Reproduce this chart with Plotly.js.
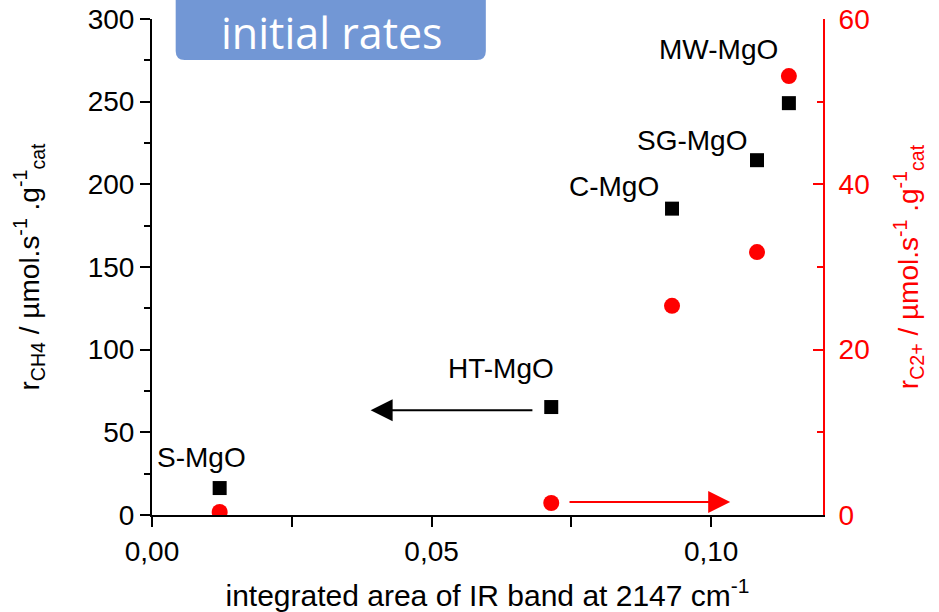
<!DOCTYPE html>
<html>
<head>
<meta charset="utf-8">
<script src="https://cdn.plot.ly/plotly-3.0.1.min.js"></script>
<style>
  html, body { margin: 0; padding: 0; background: #ffffff; }
  #chart { width: 939px; height: 612px; }
</style>
</head>
<body>
<div id="chart"></div>
<script>
// ---- data ----
const samples = ['S-MgO', 'HT-MgO', 'C-MgO', 'SG-MgO', 'MW-MgO'];
const irArea  = [0.0121, 0.0714, 0.0930, 0.1082, 0.1139];
const rCH4    = [16.3, 65.3, 185.3, 214.6, 249.1];
const rC2     = [0.36, 1.45, 25.3, 31.8, 53.1];

// arrows pointing to the axis each series belongs to
const arrowCH4 = { from: 0.0683, to: 0.0391, level: 63.3 };
const arrowC2  = { from: 0.0744, to: 0.1034, level: 1.57 };

// label placement (pixels, relative to each square)
const labelDx = [-18, -50, -58, -65, -70];
const labelDy = [31, 39, 22, 20, 54];

const FONT = 'Liberation Sans, Arial, sans-serif';
const RED = '#ff0000';

const traces = [
  {
    x: irArea, y: rCH4, type: 'scatter', mode: 'markers', name: 'r CH4',
    marker: { symbol: 'square', size: 14, color: '#000000' },
    yaxis: 'y'
  },
  {
    x: irArea, y: rC2, type: 'scatter', mode: 'markers', name: 'r C2+',
    marker: { symbol: 'circle', size: 16, color: RED },
    yaxis: 'y2'
  }
];

const annotations = samples.map((s, i) => ({
  x: irArea[i], y: rCH4[i], xref: 'x', yref: 'y',
  text: s, showarrow: false,
  xshift: labelDx[i], yshift: labelDy[i],
  xanchor: 'center', yanchor: 'middle',
  font: { family: FONT, size: 28, color: '#000000' }
}));

annotations.push({
  x: arrowCH4.to, y: arrowCH4.level, ax: arrowCH4.from, ay: arrowCH4.level,
  xref: 'x', yref: 'y', axref: 'x', ayref: 'y',
  text: '', showarrow: true, arrowhead: 2, arrowsize: 2.2, arrowwidth: 2,
  arrowcolor: '#000000', standoff: 0, startstandoff: 0
});
annotations.push({
  x: arrowC2.to, y: arrowC2.level, ax: arrowC2.from, ay: arrowC2.level,
  xref: 'x', yref: 'y2', axref: 'x', ayref: 'y2',
  text: '', showarrow: true, arrowhead: 2, arrowsize: 2.2, arrowwidth: 2,
  arrowcolor: RED, standoff: 0, startstandoff: 0
});

// "initial rates" label in the rounded box
annotations.push({
  x: 0.2687, y: 1.036, xref: 'paper', yref: 'paper',
  text: 'initial rates', showarrow: false,
  xanchor: 'center', yanchor: 'top',
  font: { family: 'Open Sans, sans-serif', size: 43, color: '#ffffff' }
});

// rounded box (paper coords)
const bx0 = 0.0353, bx1 = 0.4975, byb = 0.9173, byt = 1.06, rx = 0.0134, ry = 0.0181;
const boxPath = `M${bx0},${byt} L${bx0},${byb + ry} Q${bx0},${byb} ${bx0 + rx},${byb} ` +
  `L${bx1 - rx},${byb} Q${bx1},${byb} ${bx1},${byb + ry} L${bx1},${byt} Z`;

const layout = {
  width: 939, height: 612,
  margin: { l: 152, r: 116, t: 19, b: 97, pad: 0 },
  paper_bgcolor: '#ffffff', plot_bgcolor: '#ffffff',
  showlegend: false,
  separators: ',.',
  font: { family: FONT, size: 28, color: '#000000' },
  xaxis: {
    range: [0, 0.12], tickvals: [0, 0.05, 0.10], tickformat: '.2f',
    ticks: 'outside', ticklen: 10, tickwidth: 2, tickcolor: '#000000',
    showline: true, linewidth: 2, linecolor: '#000000',
    showgrid: false, zeroline: false,
    minor: { tickvals: [0.025, 0.075], ticks: 'outside', ticklen: 10, tickwidth: 2, tickcolor: '#000000', showgrid: false },
    tickfont: { family: FONT, size: 28, color: '#000000' },
    title: { text: 'integrated area of IR band at 2147 cm<sup>-1</sup>', font: { family: FONT, size: 30, color: '#000000' }, standoff: 20 },
    automargin: false, fixedrange: true
  },
  yaxis: {
    range: [0, 300], dtick: 50, tick0: 0,
    ticks: 'outside', ticklen: 10, tickwidth: 2, tickcolor: '#000000',
    showline: true, linewidth: 2, linecolor: '#000000',
    showgrid: false, zeroline: false,
    minor: { dtick: 25, ticks: 'outside', ticklen: 6, tickwidth: 2, tickcolor: '#000000', showgrid: false },
    tickfont: { family: FONT, size: 28, color: '#000000' },
    title: { text: 'r<sub>CH4</sub> / µmol.s<sup>-1</sup> .g<sup>-1</sup><sub>cat</sub>', font: { family: FONT, size: 28, color: '#000000' }, standoff: 40 },
    automargin: false, fixedrange: true
  },
  yaxis2: {
    range: [0, 60], dtick: 20, tick0: 0,
    overlaying: 'y', side: 'right', anchor: 'x',
    ticks: 'inside', ticklen: 10, tickwidth: 2, tickcolor: RED,
    showline: true, linewidth: 2, linecolor: RED,
    showgrid: false, zeroline: false,
    minor: { dtick: 10, ticks: 'inside', ticklen: 6, tickwidth: 2, tickcolor: RED, showgrid: false },
    tickfont: { family: FONT, size: 28, color: RED },
    ticklabelstandoff: 8,
    title: { text: 'r<sub>C2+</sub> / µmol.s<sup>-1</sup> .g<sup>-1</sup><sub>cat</sub>', font: { family: FONT, size: 28, color: RED }, standoff: 30 },
    automargin: false, fixedrange: true
  },
  shapes: [{
    type: 'path', xref: 'paper', yref: 'paper', path: boxPath,
    fillcolor: '#7297d5', line: { width: 0 }, layer: 'above'
  }],
  annotations: annotations
};

Plotly.newPlot('chart', traces, layout, { displayModeBar: false, staticPlot: true });
</script>
</body>
</html>
